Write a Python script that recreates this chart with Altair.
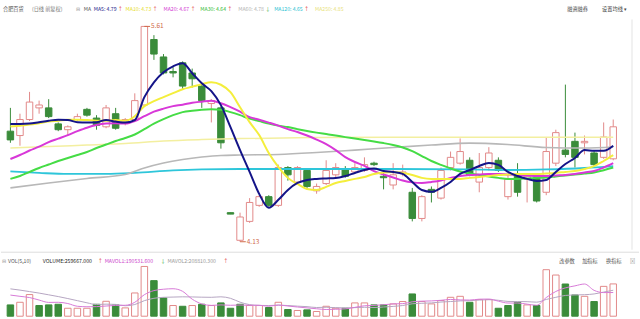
import altair as alt
import pandas as pd

# ---------------- data ----------------
opens = [4.89, 4.86, 4.97, 5.05, 5.05, 4.94, 4.90, 4.97, 5.04, 4.98,
         4.92, 5.01, 4.95, 4.97, 5.07, 5.52, 5.40, 5.30, 5.36, 5.29,
         5.20, 5.08, 5.05, 4.33, 4.14, 4.27, 4.38, 4.44, 4.38, 4.64,
         4.54, 4.62, 4.48, 4.53, 4.59, 4.63, 4.61, 4.62, 4.67, 4.58,
         4.52, 4.60, 4.47, 4.29, 4.49, 4.43, 4.64, 4.67, 4.69, 4.54,
         4.64, 4.69, 4.44, 4.59, 4.56, 4.57, 4.47, 4.67, 4.76, 4.82,
         4.81, 4.74, 4.71, 4.70]
closes = [4.83, 4.97, 5.09, 5.07, 4.99, 4.90, 4.92, 4.99, 5.00, 4.93,
          5.05, 4.91, 4.97, 5.10, 5.61, 5.42, 5.29, 5.29, 5.20, 5.25,
          5.10, 5.10, 4.81, 4.32, 4.30, 4.40, 4.44, 4.38, 4.64, 4.59,
          4.64, 4.51, 4.51, 4.62, 4.64, 4.58, 4.64, 4.66, 4.66, 4.57,
          4.59, 4.61, 4.29, 4.44, 4.47, 4.62, 4.71, 4.75, 4.59, 4.64,
          4.74, 4.62, 4.56, 4.47, 4.58, 4.41, 4.75, 4.88, 4.73, 4.71,
          4.82, 4.66, 4.85, 4.92]
highs = [5.05, 5.01, 5.16, 5.10, 5.11, 4.95, 4.93, 5.01, 5.05, 5.00,
         5.07, 5.05, 4.98, 5.15, 5.61, 5.55, 5.42, 5.33, 5.37, 5.32,
         5.22, 5.11, 5.06, 4.33, 4.33, 4.43, 4.45, 4.45, 4.66, 4.65,
         4.65, 4.63, 4.53, 4.69, 4.67, 4.65, 4.67, 4.71, 4.68, 4.62,
         4.67, 4.66, 4.50, 4.45, 4.51, 4.64, 4.75, 4.84, 4.71, 4.74,
         4.78, 4.71, 4.59, 4.67, 4.60, 4.58, 4.85, 4.90, 5.21, 4.88,
         4.86, 4.76, 4.95, 4.97]
lows = [4.81, 4.79, 4.96, 5.01, 4.98, 4.89, 4.86, 4.96, 4.99, 4.90,
        4.91, 4.90, 4.93, 4.96, 5.06, 5.38, 5.28, 5.26, 5.18, 5.19,
        5.05, 4.95, 4.77, 4.32, 4.13, 4.26, 4.37, 4.37, 4.37, 4.55,
        4.53, 4.49, 4.46, 4.52, 4.57, 4.57, 4.60, 4.61, 4.65, 4.49,
        4.49, 4.58, 4.27, 4.27, 4.40, 4.42, 4.62, 4.66, 4.58, 4.47,
        4.62, 4.61, 4.42, 4.44, 4.40, 4.40, 4.45, 4.65, 4.71, 4.64,
        4.73, 4.65, 4.70, 4.69]

ma5 = [4.939, 4.939, 4.942, 4.952, 4.962, 4.969, 4.966, 4.952, 4.949, 4.952,
       4.966, 4.956, 4.949, 4.966, 5.124, 5.226, 5.295, 5.336, 5.357, 5.288,
       5.219, 5.165, 5.069, 4.918, 4.760, 4.610, 4.459, 4.363, 4.418, 4.486,
       4.534, 4.555, 4.562, 4.565, 4.568, 4.582, 4.603, 4.623, 4.633, 4.616,
       4.610, 4.596, 4.541, 4.486, 4.473, 4.500, 4.541, 4.596, 4.623, 4.651,
       4.671, 4.658, 4.610, 4.582, 4.562, 4.548, 4.555, 4.610, 4.664, 4.706,
       4.760, 4.755, 4.755, 4.790]
ma10 = [4.922, 4.928, 4.935, 4.945, 4.956, 4.962, 4.969, 4.969, 4.966, 4.962,
        4.962, 4.966, 4.962, 4.993, 5.062, 5.096, 5.124, 5.151, 5.178, 5.195,
        5.213, 5.226, 5.209, 5.158, 5.055, 4.952, 4.863, 4.740, 4.644, 4.569,
        4.527, 4.493, 4.486, 4.507, 4.534, 4.548, 4.562, 4.575, 4.596, 4.606,
        4.610, 4.603, 4.589, 4.569, 4.562, 4.562, 4.562, 4.562, 4.569, 4.575,
        4.582, 4.589, 4.592, 4.596, 4.596, 4.596, 4.599, 4.603, 4.610, 4.616,
        4.630, 4.650, 4.685, 4.725]
ma20 = [4.699, 4.726, 4.757, 4.784, 4.815, 4.839, 4.863, 4.890, 4.914, 4.932,
        4.942, 4.945, 4.942, 4.959, 4.993, 5.024, 5.045, 5.062, 5.072, 5.086,
        5.093, 5.099, 5.082, 5.055, 5.024, 4.986, 4.969, 4.949, 4.928, 4.904,
        4.884, 4.860, 4.832, 4.801, 4.760, 4.712, 4.678, 4.651, 4.616, 4.592,
        4.572, 4.551, 4.538, 4.534, 4.541, 4.551, 4.568, 4.582, 4.589, 4.592,
        4.596, 4.596, 4.592, 4.589, 4.586, 4.582, 4.582, 4.586, 4.589, 4.596,
        4.606, 4.616, 4.640, 4.670]
ma30 = [4.562, 4.582, 4.610, 4.637, 4.661, 4.685, 4.706, 4.726, 4.747, 4.774,
        4.798, 4.822, 4.843, 4.867, 4.904, 4.942, 4.973, 5.000, 5.021, 5.031,
        5.038, 5.041, 5.038, 5.021, 5.000, 4.976, 4.959, 4.942, 4.928, 4.918,
        4.904, 4.891, 4.880, 4.870, 4.860, 4.849, 4.839, 4.829, 4.819, 4.808,
        4.795, 4.778, 4.753, 4.719, 4.685, 4.658, 4.634, 4.613, 4.599, 4.589,
        4.579, 4.569, 4.562, 4.562, 4.565, 4.569, 4.572, 4.579, 4.586, 4.592,
        4.599, 4.606, 4.622, 4.640]
ma60_i = [0, 4, 8, 12, 14, 16, 18, 20, 22, 24, 28, 32, 36, 40, 44, 48, 52, 56, 60, 63]
ma60 = [4.500, 4.534, 4.565, 4.592, 4.637, 4.671, 4.695, 4.712, 4.723, 4.726,
        4.730, 4.743, 4.760, 4.778, 4.795, 4.808, 4.798, 4.778, 4.774, 4.781]
ma120_i = [0, 3, 6, 10, 13, 17, 20, 24, 32, 40, 48, 52, 56, 60, 63]
ma120 = [4.613, 4.603, 4.596, 4.596, 4.603, 4.620, 4.627, 4.630, 4.630, 4.630,
         4.627, 4.623, 4.627, 4.637, 4.650]
ma250_i = [0, 4, 8, 12, 16, 20, 24, 32, 40, 48, 56, 63]
ma250 = [4.774, 4.784, 4.795, 4.805, 4.822, 4.832, 4.839, 4.846, 4.849, 4.849, 4.849, 4.849]

# volume in thousands of lots
vols = [91, 112, 174, 86, 91, 96, 64, 64, 64, 96,
        120, 91, 67, 187, 400, 286, 147, 86, 80, 86,
        96, 86, 107, 64, 96, 86, 86, 70, 112, 54,
        46, 51, 38, 80, 64, 64, 107, 107, 91, 91,
        99, 118, 179, 118, 99, 126, 152, 160, 112, 134,
        134, 64, 86, 112, 91, 86, 374, 331, 259, 171,
        160, 118, 240, 259.667]
vol_up = [0, 1, 1, 0, 0, 0, 1, 1, 1, 0,
          1, 0, 1, 1, 1, 0, 0, 1, 0, 1,
          0, 1, 0, 0, 0, 1, 1, 0, 1, 0,
          1, 0, 1, 1, 1, 0, 1, 1, 0, 0,
          1, 1, 0, 1, 1, 1, 1, 1, 0, 1,
          1, 0, 0, 0, 1, 0, 1, 1, 0, 0,
          1, 0, 1, 1]
mavol1 = [170, 160, 150, 130, 111, 112, 102, 80, 76, 77,
          82, 87, 88, 112, 173, 206, 217, 221, 200, 137,
          99, 87, 91, 88, 90, 88, 88, 80, 90, 82,
          74, 67, 60, 54, 56, 59, 71, 84, 87, 92,
          99, 101, 116, 121, 123, 128, 135, 131, 130, 137,
          138, 121, 106, 106, 97, 88, 150, 199, 228, 244,
          259, 208, 190, 190.5]
mavol2 = [220, 210, 198, 186, 172, 158, 142, 125, 108, 94,
          97, 95, 84, 94, 125, 144, 152, 154, 156, 155,
          153, 152, 156, 144, 113, 93, 87, 86, 89, 86,
          81, 77, 70, 72, 69, 67, 69, 72, 70, 74,
          79, 86, 100, 104, 107, 114, 118, 123, 125, 130,
          133, 128, 119, 118, 117, 113, 135, 152, 167, 171,
          173, 179, 194, 208.8]

main_header = [("合肥百货", 2, "#555555"), ("(日线 前复权)", 31, "#777777"), ("⊟", 75, "#999999"),
               ("MA", 83, "#555555"), ("MA5: 4.79", 93, "#1c1c8a"), ("↑", 117, "#e03030"),
               ("MA10: 4.73", 125, "#e6dc2a"), ("↑", 152, "#e03030"),
               ("MA20: 4.67", 163, "#d43cd4"), ("↑", 190, "#e03030"),
               ("MA30: 4.64", 200, "#33bb33"), ("↑", 227, "#e03030"),
               ("MA60: 4.78", 238, "#b4b4b4"), ("↓", 265, "#33aa33"),
               ("MA120: 4.65", 274, "#2cbfd2"), ("↑", 304, "#e03030"),
               ("MA250: 4.85", 315, "#e8e27a"),
               ("融资融券", 568, "#444444"), ("设置均线 ▾", 603, "#444444")]
vol_header = [("⊟", 1, "#999999"), ("VOL(5,10)", 7, "#555555"),
              ("VOLUME:259667.000", 42, "#222222"), ("↑", 97, "#e03030"),
              ("MAVOL1:190531.600", 104, "#cc44cc"), ("↓", 160, "#33aa33"),
              ("MAVOL2:208810.300", 167, "#999999"), ("↑", 223, "#e03030"),
              ("改参数", 560, "#555555"), ("加指标", 583, "#555555"),
              ("换指标", 607, "#555555"), ("⊠", 631, "#999999")]

# ---------------- styling ----------------
PINK = "#e28a8a"
GREEN = "#3a8c3a"
FONT = "Noto Sans CJK SC"

n = len(opens)
idx = list(range(n))
X = alt.Scale(domain=[-0.4615, 65.173], nice=False, zero=False)
YP = alt.Scale(domain=[4.0752, 5.7881], nice=False, zero=False)
YV = alt.Scale(domain=[-26.4, 526.6], nice=False, zero=False)
dir_stroke = alt.Scale(domain=["up", "down"], range=[PINK, GREEN])
dir_fill = alt.Scale(domain=["up", "down"], range=["#ffffff", GREEN])

candles = pd.DataFrame({"i": idx, "open": opens, "close": closes, "high": highs, "low": lows})
candles["dir"] = ["up" if c >= o else "down" for o, c in zip(opens, closes)]

xenc = alt.X("i:Q", scale=X, axis=None)
base = alt.Chart(candles).encode(x=xenc)
wicks = base.mark_rule(strokeWidth=1).encode(
    y=alt.Y("low:Q", scale=YP, axis=None), y2="high:Q",
    stroke=alt.Stroke("dir:N", scale=dir_stroke, legend=None))
bodies = base.mark_bar(width=6.5, strokeWidth=1).encode(
    y=alt.Y("open:Q", scale=YP, axis=None), y2="close:Q",
    fill=alt.Fill("dir:N", scale=dir_fill, legend=None),
    stroke=alt.Stroke("dir:N", scale=dir_stroke, legend=None))


def line(ix, vals, color, width, yscale):
    d = pd.DataFrame({"i": ix, "v": vals})
    return alt.Chart(d).mark_line(color=color, strokeWidth=width, interpolate="monotone").encode(
        x=alt.X("i:Q", scale=X, axis=None), y=alt.Y("v:Q", scale=yscale, axis=None))


ma_layers = [
    line(ma250_i, ma250, "#f3efa0", 1.5, YP),
    line(ma120_i, ma120, "#2ec6da", 1.8, YP),
    line(ma60_i, ma60, "#b8b8b8", 1.6, YP),
    line(idx, ma30, "#45dc45", 2, YP),
    line(idx, ma20, "#d838d8", 2, YP),
    line(idx, ma10, "#f4ee3c", 2, YP),
    line(idx, ma5, "#141488", 2, YP),
]

hi_i = highs.index(max(highs))
lo_i = lows.index(min(lows))
ext = pd.DataFrame({"i": [hi_i, lo_i], "p": [highs[hi_i], lows[lo_i]],
                    "i2": [hi_i + 0.6, lo_i + 0.6],
                    "lbl": [f"{highs[hi_i]:.2f}", f"{lows[lo_i]:.2f}"]})
ext_rule = alt.Chart(ext).mark_rule(color="#d06a4a", strokeWidth=1).encode(
    x=alt.X("i:Q", scale=X, axis=None), x2="i2:Q", y=alt.Y("p:Q", scale=YP, axis=None))
ext_text = alt.Chart(ext).mark_text(align="left", baseline="middle", dx=1, fontSize=6.5,
                                    font=FONT, color="#d06a4a").encode(
    x=alt.X("i2:Q", scale=X, axis=None), y=alt.Y("p:Q", scale=YP, axis=None), text="lbl:N")

hdr = pd.DataFrame(main_header, columns=["t", "px", "c"])
hdr_text = alt.Chart(hdr).mark_text(align="left", baseline="middle", fontSize=5.2, font=FONT).encode(
    x=alt.X("px:Q", scale=None), y=alt.value(9), text="t:N", color=alt.Color("c:N", scale=None))
frame = alt.Chart(pd.DataFrame({"a": [0]})).mark_rule(color="#e4e4e4", strokeWidth=1).encode(
    x=alt.value(633), y=alt.value(19), y2=alt.value(250))

main = alt.layer(frame, wicks, bodies, *ma_layers, ext_rule, ext_text, hdr_text).properties(
    width=640, height=250)

vdf = pd.DataFrame({"i": idx, "v": vols, "dir": ["up" if u else "down" for u in vol_up]})
vbars = alt.Chart(vdf).mark_bar(width=6.5, strokeWidth=1).encode(
    x=xenc, y=alt.Y("v:Q", scale=YV, axis=None), y2=alt.datum(0),
    fill=alt.Fill("dir:N", scale=dir_fill, legend=None),
    stroke=alt.Stroke("dir:N", scale=dir_stroke, legend=None))
mv2 = line(idx, mavol2, "#b6a6c2", 1, YV)
mv1 = line(idx, mavol1, "#d77ad7", 1, YV)
vh = pd.DataFrame(vol_header, columns=["t", "px", "c"])
vh_text = alt.Chart(vh).mark_text(align="left", baseline="middle", fontSize=5.2, font=FONT).encode(
    x=alt.X("px:Q", scale=None), y=alt.value(10), text="t:N", color=alt.Color("c:N", scale=None))
sep = alt.Chart(pd.DataFrame({"a": [0]})).mark_rule(color="#dddddd", strokeWidth=1).encode(
    x=alt.value(0), x2=alt.value(640), y=alt.value(1.5))

vol = alt.layer(sep, vbars, mv2, mv1, vh_text).properties(width=640, height=69)

chart = alt.vconcat(main, vol, spacing=0).properties(padding=0, background="white").configure_view(
    stroke=None)

chart.save("out.html", embed_options={"renderer": "svg", "actions": False})
